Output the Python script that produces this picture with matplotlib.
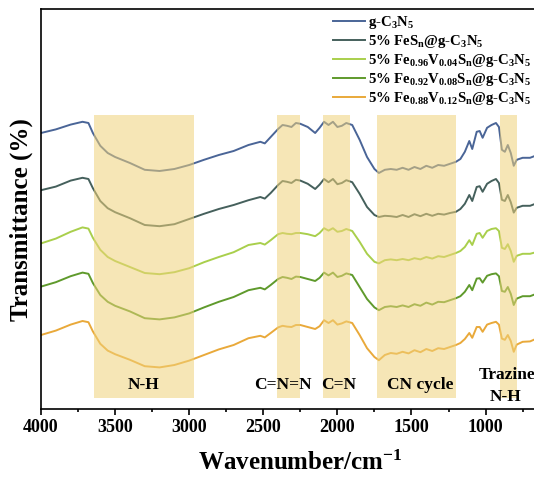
from __future__ import annotations

import matplotlib

matplotlib.use("Agg")
import matplotlib.pyplot as plt
from matplotlib.ticker import FixedLocator, MultipleLocator

# FTIR spectra, stacked with vertical offsets (arbitrary transmittance units)
WAVENUMBER = [
    4000, 3900, 3800, 3720, 3680, 3650, 3600, 3550, 3500, 3400,
    3300, 3200, 3100, 3000, 2900, 2800, 2700, 2600, 2520, 2490,
    2450, 2400, 2370, 2340, 2310, 2280, 2250, 2200, 2150, 2120,
    2090, 2060, 2030, 2000, 1970, 1940, 1900, 1850, 1800, 1750,
    1720, 1680, 1640, 1600, 1560, 1520, 1480, 1440, 1400, 1360,
    1320, 1280, 1240, 1200, 1170, 1140, 1110, 1090, 1060, 1040,
    1020, 990, 960, 930, 910, 890, 870, 850, 830, 810,
    790, 750, 700, 650,
]

G_C3N5 = [
    69.0, 69.9, 71.1, 71.8, 71.5, 69.0, 65.8, 64.0, 63.0, 61.5,
    59.8, 59.5, 60.0, 61.0, 62.3, 63.5, 64.5, 66.0, 66.8, 66.4,
    68.0, 70.0, 71.0, 70.8, 70.5, 71.5, 71.3, 70.5, 69.0, 70.3,
    71.8, 71.0, 71.8, 70.5, 70.8, 71.5, 71.0, 67.3, 63.0, 60.0,
    59.0, 59.8, 60.0, 59.8, 60.3, 59.8, 60.5, 60.0, 60.8, 60.3,
    61.0, 60.8, 61.3, 61.8, 62.5, 64.3, 67.0, 65.0, 69.3, 69.5,
    67.8, 70.3, 71.0, 71.5, 70.5, 64.8, 64.3, 66.0, 64.0, 60.8,
    62.3, 62.8, 62.8, 63.5,
]

FES_N = [
    54.7, 55.6, 57.1, 57.8, 57.5, 55.2, 52.0, 50.2, 49.2, 47.7,
    46.0, 45.7, 46.2, 47.5, 48.8, 50.0, 51.0, 52.2, 53.0, 52.6,
    54.0, 56.0, 57.0, 56.8, 56.5, 57.3, 57.1, 56.3, 55.0, 56.1,
    57.5, 56.7, 57.5, 56.2, 56.5, 57.2, 56.7, 53.8, 50.5, 48.5,
    48.0, 48.3, 48.2, 48.0, 48.5, 48.0, 48.7, 48.2, 48.8, 48.3,
    48.8, 48.6, 49.0, 49.3, 50.0, 51.3, 53.5, 52.0, 55.5, 55.7,
    54.3, 56.3, 57.0, 57.5, 56.5, 52.3, 52.0, 53.5, 51.7, 49.1,
    50.3, 50.8, 50.8, 51.5,
]

FE096_V004 = [
    41.4, 42.6, 44.3, 45.4, 45.1, 42.8, 39.8, 38.0, 37.0, 35.5,
    34.0, 33.7, 34.2, 35.2, 36.7, 38.0, 39.2, 41.0, 41.5, 41.1,
    42.2, 43.7, 44.0, 43.8, 43.7, 44.0, 44.0, 43.7, 43.2, 44.0,
    45.2, 44.6, 45.2, 44.3, 44.5, 45.0, 44.5, 41.8, 38.8, 36.8,
    36.4, 37.2, 37.4, 37.2, 37.5, 37.2, 37.7, 37.4, 38.0, 37.6,
    38.2, 38.0, 38.5, 39.0, 39.5, 40.5, 42.2, 41.0, 43.8, 44.0,
    42.8, 44.5, 45.0, 45.2, 44.5, 40.3, 40.0, 41.2, 39.5, 36.8,
    38.3, 38.8, 38.8, 39.3,
]

FE092_V008 = [
    30.6, 31.7, 33.2, 34.1, 33.8, 31.5, 28.5, 26.8, 25.8, 24.4,
    22.7, 22.4, 22.9, 23.9, 25.4, 26.8, 28.0, 29.7, 30.3, 29.9,
    31.0, 32.5, 33.0, 32.8, 32.5, 33.1, 33.0, 32.5, 32.0, 32.8,
    34.1, 33.4, 34.1, 33.0, 33.3, 33.9, 33.5, 30.5, 27.5, 25.4,
    24.7, 25.5, 25.7, 25.5, 25.9, 25.5, 26.2, 25.8, 26.6, 26.1,
    26.8, 26.7, 27.2, 27.7, 28.2, 29.3, 31.0, 29.7, 32.6, 32.7,
    31.6, 33.3, 33.7, 33.9, 33.2, 29.5, 29.3, 30.5, 28.8, 26.0,
    27.6, 28.2, 28.2, 28.9,
]

FE088_V012 = [
    18.5, 19.6, 21.1, 22.0, 21.7, 19.4, 16.3, 14.6, 13.7, 12.3,
    10.7, 10.4, 11.0, 12.1, 13.5, 14.9, 16.0, 17.7, 18.3, 17.9,
    19.0, 20.4, 20.8, 20.6, 20.5, 21.0, 21.0, 20.5, 20.0, 20.7,
    22.2, 21.5, 22.2, 21.1, 21.4, 21.9, 21.5, 18.5, 15.2, 13.0,
    12.2, 13.5, 14.0, 13.8, 14.3, 13.9, 14.7, 14.2, 15.0, 14.5,
    15.2, 15.0, 15.5, 16.0, 16.5, 17.5, 19.0, 17.8, 20.5, 20.5,
    19.3, 21.1, 21.5, 21.8, 21.1, 17.6, 17.3, 18.5, 17.0, 14.3,
    16.1, 16.8, 16.9, 17.7,
]

SERIES_LABELS = [
    r"g-C$_{3}$N$_{5}$",
    r"5% FeS$_{n}$@g-C$_{3}$N$_{5}$",
    r"5% Fe$_{0.96}$V$_{0.04}$S$_{n}$@g-C$_{3}$N$_{5}$",
    r"5% Fe$_{0.92}$V$_{0.08}$S$_{n}$@g-C$_{3}$N$_{5}$",
    r"5% Fe$_{0.88}$V$_{0.12}$S$_{n}$@g-C$_{3}$N$_{5}$",
]
SERIES_COLORS = ["#4A6597", "#45605C", "#A9CF4C", "#5F9A2C", "#E9A93A"]

# assigned absorption regions (high, low wavenumber)
BAND_RANGES = [(3640, 2970), (2406, 2255), (2098, 1915), (1730, 1203), (905, 790)]
BAND_LABELS = ["N-H", "C=N=N", "C=N", "CN cycle", "Trazine"]
BAND_LABEL_X = [3311, 2366, 1988, 1442, 857]

MAJOR_TICKS = [4000, 3500, 3000, 2500, 2000, 1500, 1000]


def setup_fonts() -> None:
    plt.rcParams["font.family"] = ["Liberation Serif", "DejaVu Serif"]
    plt.rcParams["font.weight"] = "bold"
    plt.rcParams["mathtext.fontset"] = "custom"
    plt.rcParams["mathtext.rm"] = "Liberation Serif:bold"
    plt.rcParams["mathtext.it"] = "Liberation Serif:bold"
    plt.rcParams["mathtext.bf"] = "Liberation Serif:bold"
    plt.rcParams["mathtext.default"] = "rm"


def main() -> None:
    setup_fonts()
    fig = plt.figure(figsize=(5.34, 4.83), dpi=100)
    ax = fig.add_axes([0.0768, 0.1532, 0.9713, 0.8282])

    spectra = [G_C3N5, FES_N, FE096_V004, FE092_V008, FE088_V012]
    for values, label, color in zip(spectra, SERIES_LABELS, SERIES_COLORS):
        ax.plot(WAVENUMBER, values, color=color, lw=1.4, label=label, zorder=2)

    for (hi, lo) in BAND_RANGES:
        ax.axvspan(hi, lo, ymin=0.0275, ymax=0.735, color="#F0D27A",
                   alpha=0.55, lw=0, zorder=3)

    for text, xpos in zip(BAND_LABELS, BAND_LABEL_X):
        ypos = 8.5 if text == "Trazine" else 6.0
        ax.text(xpos, ypos, text, ha="center", va="center", fontsize=12.5,
                fontweight="bold", zorder=4)
    ax.text(868, 3.0, "N-H", ha="center", va="center", fontsize=12.5,
            fontweight="bold", zorder=4)

    ax.set_xlim(4000, 500)
    ax.set_ylim(0, 100)
    ax.xaxis.set_major_locator(FixedLocator(MAJOR_TICKS))
    ax.xaxis.set_minor_locator(MultipleLocator(250))
    ax.tick_params(axis="x", which="major", direction="out", length=4.5,
                   width=1.2, labelsize=13, pad=3)
    ax.tick_params(axis="x", which="minor", direction="out", length=2.5,
                   width=1.2)
    ax.set_yticks([])
    for side in ("left", "bottom", "top", "right"):
        ax.spines[side].set_linewidth(1.2)

    ax.set_xlabel(r"Wavenumber/cm$^{-1}$", fontsize=18, fontweight="bold",
                  labelpad=10)
    ax.set_ylabel("Transmittance (%)", fontsize=18, fontweight="bold")
    ax.yaxis.set_label_coords(-0.016, 0.4725)

    ax.legend(
        loc="upper left",
        bbox_to_anchor=(333 / 534, 1 - 14 / 483),
        bbox_transform=fig.transFigure,
        frameon=False,
        fontsize=10.6,
        handlelength=2.2,
        handletextpad=0.2,
        labelspacing=0.14,
        borderpad=0,
        borderaxespad=0,
    )

    fig.savefig("out.png", dpi=100)
    plt.close(fig)


if __name__ == "__main__":
    main()
